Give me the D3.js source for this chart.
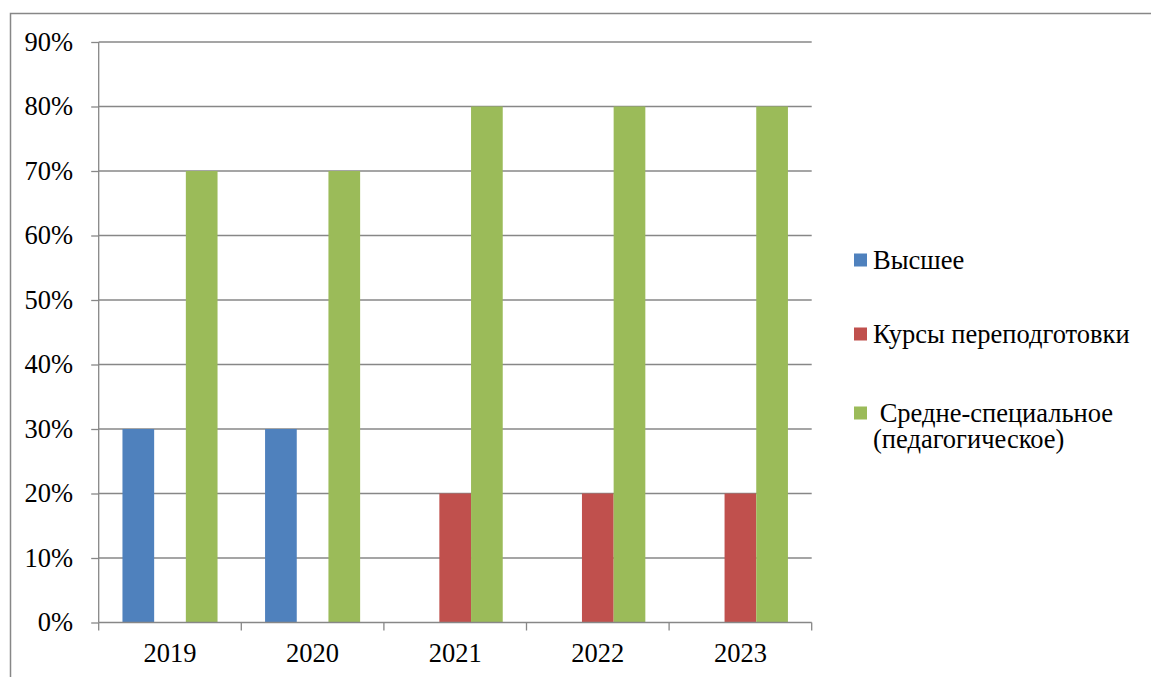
<!DOCTYPE html>
<html><head><meta charset="utf-8">
<script src="https://cdn.jsdelivr.net/npm/d3@7"></script>
<style>
html,body{margin:0;padding:0;background:#fff;overflow:hidden}
svg{display:block}
svg text{font-family:"Liberation Serif","Times New Roman",serif !important}
</style></head>
<body>
<svg id="chart" width="1151" height="677"></svg>
<script>
const categories = ["2019","2020","2021","2022","2023"];
const seriesNames = ["Высшее","Курсы переподготовки","Средне-специальное (педагогическое)"];
const vysshee = [0.30,0.30,0,0,0];
const kursy = [0,0,0.20,0.20,0.20];
const sredne = [0.70,0.70,0.80,0.80,0.80];
const yTicks = [0,0.1,0.2,0.3,0.4,0.5,0.6,0.7,0.8,0.9];
const colors = ["#4F81BD","#C0504D","#9BBB59"];
const legendLines = [["Высшее"],["Курсы переподготовки"],[" Средне-специальное","(педагогическое)"]];

const seriesValues = [vysshee,kursy,sredne];
const svg = d3.select("#chart");
const pLeft = 98.7, pRight = 811.7, pTop = 42, pBottom = 622.5;
const FS = "26.5px";

// outer frame
svg.append("path").attr("d","M10.5,677 L10.5,13.5 L1151,13.5")
  .attr("fill","none").attr("stroke","#878787").attr("stroke-width",1.5);

const x0 = d3.scaleBand().domain(categories).range([pLeft,pRight]).padding(0);
const bw = x0.bandwidth();
const gap = bw/4.5*1.5;
const x1 = d3.scaleBand().domain([0,1,2]).range([gap/2,bw-gap/2]).padding(0);
const y = d3.scaleLinear().domain([0,0.9]).range([pBottom,pTop]);

// gridlines
svg.append("g").selectAll("line").data(yTicks.filter(d=>d>0)).join("line")
  .attr("x1",pLeft).attr("x2",pRight)
  .attr("y1",d=>y(d)).attr("y2",d=>y(d))
  .attr("stroke","#878787").attr("stroke-width",1.3);

// bars
const g = svg.append("g");
categories.forEach((c,i)=>{
  seriesValues.forEach((vals,s)=>{
    if (vals[i] <= 0) return;
    g.append("rect")
      .attr("x",x0(c)+x1(s)).attr("width",x1.bandwidth())
      .attr("y",y(vals[i])).attr("height",y(0)-y(vals[i]))
      .attr("fill",colors[s]);
  });
});

// y axis
const yAxis = d3.axisLeft(y).tickValues(yTicks).tickFormat(d3.format(".0%")).tickSize(7.5).tickPadding(18);
const ya = svg.append("g").attr("transform",`translate(${pLeft},0)`).call(yAxis);
ya.attr("font-family",null).attr("font-size",null);
ya.select(".domain").attr("stroke","#878787").attr("stroke-width",1.3).attr("d",`M0,${pTop}V${pBottom}`);
ya.selectAll(".tick line").attr("stroke","#878787").attr("stroke-width",1.3);
ya.selectAll(".tick text").style("font-size",FS).attr("fill","#000");

// x axis
const xa = svg.append("g").attr("transform",`translate(0,${pBottom})`)
  .call(d3.axisBottom(x0).tickSize(0).tickPadding(21));
xa.attr("font-family",null).attr("font-size",null);
xa.select(".domain").attr("stroke","#878787").attr("stroke-width",1.3).attr("d",`M${pLeft},0H${pRight}`);
xa.selectAll(".tick text").style("font-size",FS).attr("fill","#000");
// category boundary ticks
const bounds = categories.map(c=>x0(c)).concat([pRight]);
svg.append("g").selectAll("line").data(bounds).join("line")
  .attr("x1",d=>d).attr("x2",d=>d).attr("y1",pBottom).attr("y2",pBottom+8)
  .attr("stroke","#878787").attr("stroke-width",1.3);

// legend
const legY = [260,334,413];
const lg = svg.append("g");
seriesNames.forEach((n,i)=>{
  lg.append("rect").attr("x",854).attr("y",legY[i]-6.5).attr("width",13).attr("height",13).attr("fill",colors[i]);
  const t = lg.append("text").attr("x",873).attr("y",legY[i]+9)
    .style("font-size",FS).attr("fill","#000")
    .style("white-space","pre");
  legendLines[i].forEach((ln,k)=>{
    t.append("tspan").attr("x",873).attr("dy",k===0?0:26).text(ln);
  });
});
</script>
</body></html>
